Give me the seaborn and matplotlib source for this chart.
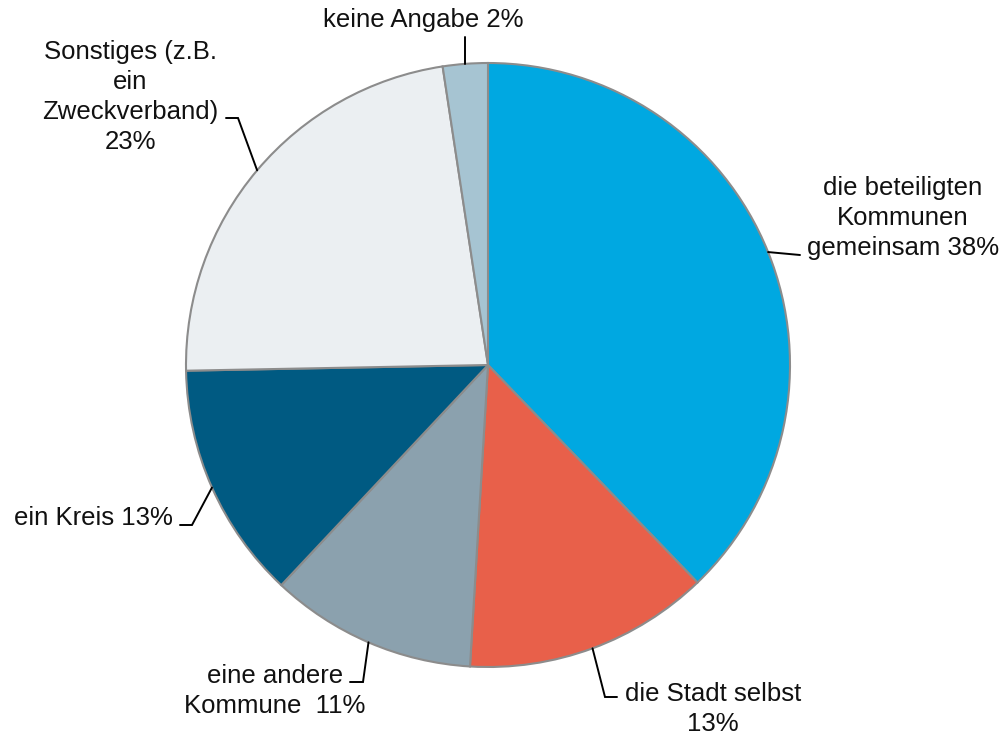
import numpy as np
import matplotlib
matplotlib.use("Agg")
import matplotlib.pyplot as plt
import seaborn as sns

# data, clockwise from 12 o'clock (slice sizes)
labels = [
    "die beteiligten\nKommunen\ngemeinsam 38%",
    "die Stadt selbst\n13%",
    "eine andere\nKommune  11%",
    "ein Kreis 13%",
    "Sonstiges (z.B.\nein\nZweckverband)\n23%",
    "keine Angabe 2%",
]
shares = [37.8, 13.15, 11.05, 12.7, 22.9, 2.4]
colors = ["#00A8E1", "#E8604A", "#8BA1AE", "#005A82", "#EBEFF2", "#A6C4D2"]

# label layout in pixel coords (y from top): text centre, leader elbow + end
text_pos = [(903, 218), (713, 709), (275, 691), (93, 518), (130, 97), (423, 20)]
leader = [
    [(800, 255)],
    [(605, 697), (617, 697)],
    [(363, 682), (350, 682)],
    [(192, 525), (180, 525)],
    [(238, 118), (226, 118)],
    [(465, 37)],
]
# leader anchor on the rim: None -> middle of the wedge, else x pixel
anchor_x = [None, None, None, None, None, 465]

W, H = 1007, 735
cx, cy, R = 488, 365, 302

sns.set_theme(style="white")
plt.rcParams["font.family"] = ["Liberation Sans", "DejaVu Sans"]

fig = plt.figure(figsize=(W / 100, H / 100), dpi=100)
ax = fig.add_axes([0, 0, 1, 1])

wedges, _ = ax.pie(
    shares, colors=colors, startangle=90, counterclock=False,
    center=(cx, H - cy), radius=R, frame=True,
    wedgeprops=dict(edgecolor="#8c8c8c", linewidth=1.5),
)
ax.set_xlim(0, W)
ax.set_ylim(0, H)
ax.set_aspect("equal")
ax.axis("off")

for w, lab, (tx, ty), pts, axx in zip(wedges, labels, text_pos, leader, anchor_x):
    if axx is None:
        mid = np.deg2rad((w.theta1 + w.theta2) / 2)
        x0 = cx + R * np.cos(mid)
        y0 = (H - cy) + R * np.sin(mid)
    else:
        x0 = axx
        y0 = (H - cy) + np.sqrt(R ** 2 - (axx - cx) ** 2)
    xs = [x0] + [p[0] for p in pts]
    ys = [y0] + [H - p[1] for p in pts]
    ax.plot(xs, ys, color="black", lw=1.4, solid_joinstyle="miter")
    ax.text(tx, H - ty, lab, ha="center", va="center", fontsize=18.5,
            color="#111111", linespacing=1.3)

fig.savefig("out.png", dpi=100)
